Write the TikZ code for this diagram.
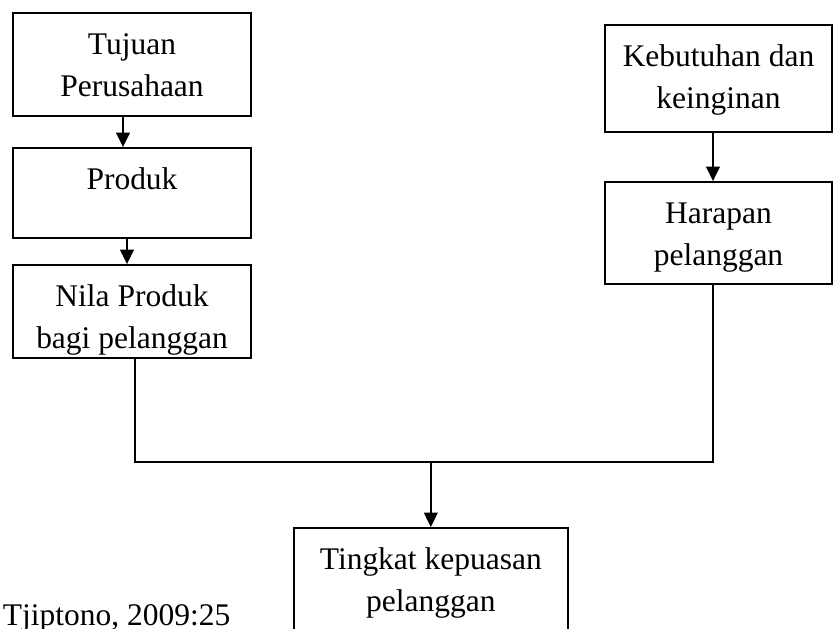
\documentclass[tikz,border=0pt]{standalone}
\usepackage{fontspec}
\setmainfont{Liberation Serif}
\usepackage{tikz}
\usetikzlibrary{arrows.meta,positioning,calc}

\begin{document}
\begin{tikzpicture}[>={Triangle[length=0.36cm,width=0.34cm]}, line width=1.3pt,
  every node/.style={font=\fontsize{22.4pt}{30pt}\selectfont},
  kotak/.style={draw, line width=1.3pt, align=center, inner xsep=0pt, inner ysep=0pt, text height=1.03cm},
  duabaris/.style={kotak, text height=2.08cm}]
  \useasboundingbox (0,0) rectangle (20.85,-15.7);
  \clip (0,0) rectangle (20.85,-15.7);
  \node[duabaris, minimum width=5.95cm, text depth=0.495cm] (tujuan) at (3.3, -1.6125) {Tujuan\\Perusahaan};
  \node[kotak, minimum width=5.95cm, text depth=1.22cm] (produk) at (3.3, -4.825) {Produk};
  \node[duabaris, minimum width=5.95cm, text depth=0.245cm] (nilai) at (3.3, -7.7875) {Nila Produk\\bagi pelanggan};
  \node[duabaris, minimum width=5.675cm, text depth=0.595cm] (kebutuhan) at (17.9625, -1.9625) {Kebutuhan dan\\keinginan};
  \node[duabaris, minimum width=5.675cm, text depth=0.47cm] (harapan) at (17.9625, -5.825) {Harapan\\pelanggan};
  \node[duabaris, minimum width=6.86cm, text depth=0.97cm] (tingkat) at (10.77, -14.725) {Tingkat kepuasan\\pelanggan};
  \node[anchor=base west, inner sep=0pt] (sumber) at (0.05, -15.625) {Tjiptono, 2009:25};
  \coordinate (gabung) at (10.77, -11.55);
  \draw[->] ([xshift=-0.225cm]tujuan.south) -- ([xshift=-0.225cm]produk.north);
  \draw[->] ([xshift=-0.125cm]produk.south) -- ([xshift=-0.125cm]nilai.north);
  \draw[->] ([xshift=-0.1375cm]kebutuhan.south) -- ([xshift=-0.1375cm]harapan.north);
  \draw ([xshift=0.075cm]nilai.south) |- (gabung) -| ([xshift=-0.1375cm]harapan.south);
  \draw[->] (gabung) -- (tingkat);
\end{tikzpicture}
\end{document}
